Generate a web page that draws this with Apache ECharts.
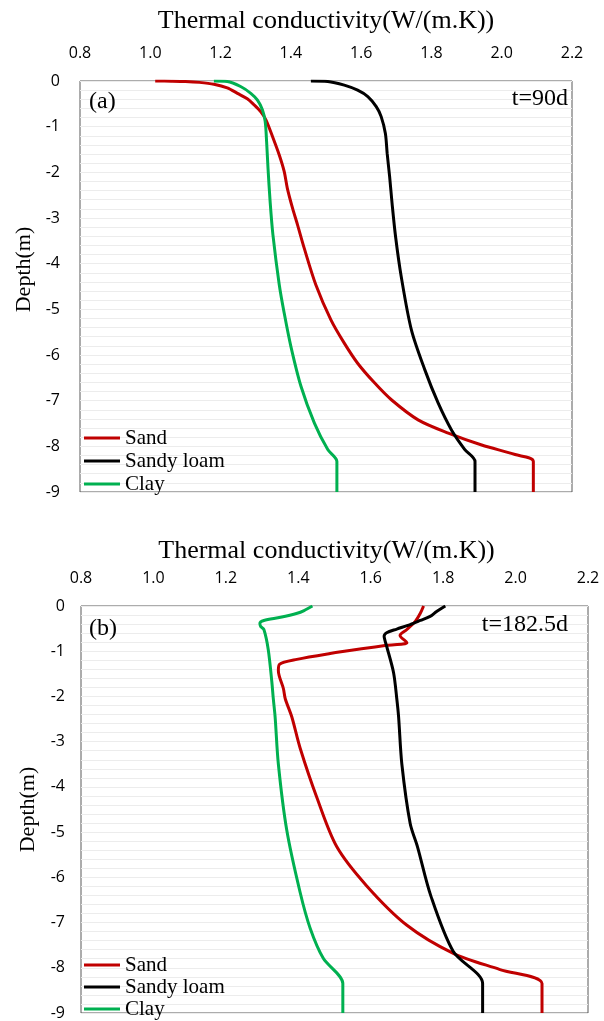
<!DOCTYPE html>
<html>
<head>
<meta charset="utf-8">
<script src="https://cdn.jsdelivr.net/npm/echarts@6/dist/echarts.min.js"></script>
<style>
html,body{margin:0;padding:0;background:#fff;}
#chart{width:604px;height:1021px;}
</style>
</head>
<body>
<div id="chart"></div>
<script>
// ---- Data (thermal conductivity k in W/(m.K), depth in m) ----
var xTicks = [0.8, 1.0, 1.2, 1.4, 1.6, 1.8, 2.0, 2.2];
var yTicks = [0, -1, -2, -3, -4, -5, -6, -7, -8, -9];
var seriesNames = ['Sand', 'Sandy loam', 'Clay'];

// Panel (a) t = 90 d
var sandA_k = [1.014, 1.060, 1.100, 1.140, 1.181, 1.219, 1.248, 1.276, 1.295, 1.314, 1.329, 1.348, 1.367, 1.381, 1.390, 1.405, 1.419, 1.438, 1.471, 1.514, 1.552, 1.590, 1.638, 1.686, 1.762, 1.848, 1.943, 2.038, 2.090, 2.090];
var sandA_d = [0, -0.003, -0.01, -0.03, -0.07, -0.15, -0.27, -0.39, -0.52, -0.67, -0.85, -1.22, -1.62, -1.98, -2.35, -2.79, -3.15, -3.66, -4.46, -5.23, -5.74, -6.18, -6.61, -6.98, -7.42, -7.71, -7.97, -8.18, -8.33, -9];
var loamA_k = [1.457, 1.505, 1.552, 1.590, 1.619, 1.643, 1.657, 1.669, 1.674, 1.681, 1.688, 1.698, 1.714, 1.743, 1.781, 1.819, 1.857, 1.895, 1.924, 1.924];
var loamA_d = [0, -0.01, -0.09, -0.20, -0.34, -0.56, -0.78, -1.15, -1.58, -2.09, -2.68, -3.41, -4.28, -5.45, -6.32, -7.05, -7.64, -8.07, -8.33, -9];
var clayA_k = [1.181, 1.219, 1.257, 1.286, 1.305, 1.319, 1.327, 1.331, 1.335, 1.341, 1.349, 1.367, 1.381, 1.400, 1.429, 1.467, 1.505, 1.531, 1.531];
var clayA_d = [0, -0.01, -0.12, -0.27, -0.42, -0.63, -0.89, -1.33, -1.91, -2.64, -3.37, -4.46, -5.08, -5.81, -6.69, -7.49, -8.07, -8.33, -9];

// Panel (b) t = 182.5 d
var sandB_k = [1.746, 1.737, 1.723, 1.700, 1.681, 1.700, 1.644, 1.580, 1.488, 1.396, 1.348, 1.345, 1.359, 1.364, 1.382, 1.405, 1.451, 1.506, 1.589, 1.700, 1.828, 1.957, 2.073, 2.073];
var sandB_d = [0, -0.16, -0.34, -0.52, -0.65, -0.81, -0.87, -0.94, -1.05, -1.18, -1.29, -1.43, -1.83, -2.05, -2.45, -3.14, -4.23, -5.32, -6.19, -7.06, -7.68, -8.04, -8.35, -9];
var loamB_k = [1.806, 1.782, 1.764, 1.737, 1.709, 1.672, 1.644, 1.637, 1.640, 1.644, 1.663, 1.672, 1.677, 1.686, 1.709, 1.729, 1.766, 1.828, 1.909, 1.909];
var loamB_d = [0, -0.12, -0.23, -0.32, -0.41, -0.51, -0.59, -0.67, -0.78, -0.89, -1.47, -2.05, -2.45, -3.50, -4.81, -5.32, -6.41, -7.64, -8.35, -9];
var clayB_k = [1.439, 1.416, 1.397, 1.351, 1.305, 1.294, 1.296, 1.305, 1.317, 1.327, 1.331, 1.336, 1.345, 1.368, 1.405, 1.433, 1.469, 1.523, 1.523];
var clayB_d = [0, -0.10, -0.16, -0.25, -0.32, -0.38, -0.45, -0.52, -0.96, -1.68, -2.05, -2.45, -3.50, -4.95, -6.33, -7.13, -7.79, -8.35, -9];

var colors = {'Sand': '#C00000', 'Sandy loam': '#000000', 'Clay': '#00B050'};

function pairs(k, d) { return k.map(function (v, i) { return [v, d[i]]; }); }

var serif = 'Liberation Serif, Times New Roman, serif';
var sans = 'Open Sans, Liberation Sans, sans-serif';

function mkX(idx, gap, padR) {
  return {
    gridIndex: idx, type: 'value', position: 'top',
    min: xTicks[0], max: xTicks[xTicks.length - 1], interval: 0.2,
    name: 'Thermal conductivity(W/(m.K))', nameLocation: 'middle', nameGap: gap,
    nameTextStyle: {fontFamily: serif, fontSize: 26, color: '#000', padding: [0, padR, 0, 0]},
    axisLine: {show: false}, axisTick: {show: false}, splitLine: {show: false},
    axisLabel: {fontFamily: sans, fontSize: 16, color: '#000', margin: 20,
      formatter: function (v) { return v.toFixed(1); }}
  };
}
function mkY(idx, margin, shift) {
  return {
    gridIndex: idx, type: 'value',
    min: yTicks[yTicks.length - 1], max: yTicks[0], interval: 1,
    name: 'Depth(m)', nameLocation: 'middle', nameGap: 42,
    nameTextStyle: {fontFamily: serif, fontSize: 22, color: '#000', padding: [0, 0, 0, shift]},
    axisLine: {show: false}, axisTick: {show: false},
    axisLabel: {fontFamily: sans, fontSize: 16, color: '#000', margin: margin},
    splitLine: {show: true, lineStyle: {color: '#ececec', width: 1}},
    minorTick: {show: false, splitNumber: 5},
    minorSplitLine: {show: true, lineStyle: {color: '#ececec', width: 1}}
  };
}
function mkSeries(name, k, d, idx) {
  return {
    name: name, type: 'line', xAxisIndex: idx, yAxisIndex: idx,
    data: pairs(k, d), showSymbol: false, symbol: 'none', smooth: 0.3,
    lineStyle: {color: colors[name], width: 3}, itemStyle: {color: colors[name]},
    z: 3
  };
}
function mkLegend(top, gap) {
  return {
    data: seriesNames, orient: 'vertical', left: 84, top: top, padding: 0,
    icon: 'rect', itemWidth: 36, itemHeight: 3, itemGap: gap,
    textStyle: {fontFamily: serif, fontSize: 21, lineHeight: 22, color: '#000'},
    selectedMode: false
  };
}

var option = {
  animation: false,
  backgroundColor: '#fff',
  grid: [
    {left: 80, top: 81, width: 492, height: 411, show: true, borderColor: '#595959', borderWidth: 1, backgroundColor: 'transparent'},
    {left: 81, top: 606, width: 507, height: 413, show: true, borderColor: '#595959', borderWidth: 1, backgroundColor: 'transparent'}
  ],
  xAxis: [mkX(0, 47, 0), mkX(1, 42, 16)],
  yAxis: [mkY(0, 20, 34), mkY(1, 16, 0)],
  legend: [mkLegend(427, 1), mkLegend(954, 0)],
  graphic: [
    {type: 'text', left: 89, top: 90, z: 100, style: {text: '(a)', font: '24px ' + serif, fill: '#000'}},
    {type: 'text', right: 36, top: 87, z: 100, style: {text: 't=90d', font: '24px ' + serif, fill: '#000'}},
    {type: 'text', left: 89, top: 617, z: 100, style: {text: '(b)', font: '24px ' + serif, fill: '#000'}},
    {type: 'text', right: 36, top: 613, z: 100, style: {text: 't=182.5d', font: '24px ' + serif, fill: '#000'}}
  ],
  series: [
    mkSeries('Sand', sandA_k, sandA_d, 0),
    mkSeries('Sandy loam', loamA_k, loamA_d, 0),
    mkSeries('Clay', clayA_k, clayA_d, 0),
    mkSeries('Sand', sandB_k, sandB_d, 1),
    mkSeries('Sandy loam', loamB_k, loamB_d, 1),
    mkSeries('Clay', clayB_k, clayB_d, 1)
  ]
};
var chart = echarts.init(document.getElementById('chart'), null, {renderer: 'canvas'});
chart.setOption(option);
</script>
</body>
</html>
